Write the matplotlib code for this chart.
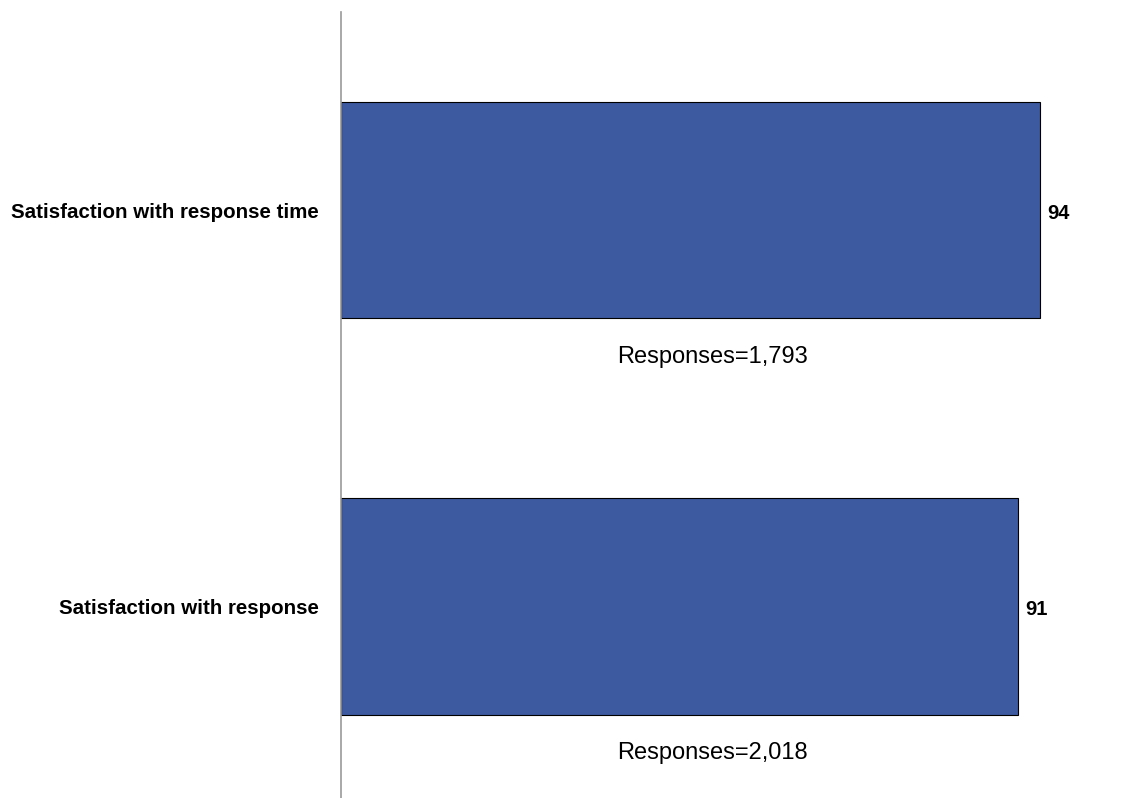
import matplotlib
matplotlib.use("Agg")
import matplotlib.pyplot as plt

categories = ["Satisfaction with response", "Satisfaction with response time"]
values = [91, 94]
responses = ["Responses=2,018", "Responses=1,793"]

plt.rcParams['font.family'] = ['Liberation Sans', 'DejaVu Sans']

fig = plt.figure(figsize=(11.42, 7.98), dpi=100)
ax = fig.add_axes([341/1142, 0.0, (1084.6-341)/1142, 1 - 12/798])

pos = list(range(len(categories)))
h = 0.545
ax.barh(pos, values, height=h, color="#3D5AA1", edgecolor="black", linewidth=0.8)
ax.set_xlim(0, 100)
ax.set_ylim(-0.483, 1.4994)

for p, v, r in zip(pos, values, responses):
    ax.annotate(str(v), xy=(v, p), xytext=(5.5, -2.2), textcoords="offset points",
                ha="left", va="center", fontsize=14.5, fontweight="bold")
    ax.text(50, p - h/2 - 0.097, r, ha="center", va="center", fontsize=17)

ax.set_yticks(pos)
ax.set_yticklabels(categories, fontsize=14.8, fontweight="bold")
ax.tick_params(axis="y", length=0, pad=16)
ax.set_xticks([])
for s in ["top", "right", "bottom"]:
    ax.spines[s].set_visible(False)
ax.spines["left"].set_color("#999999")
ax.spines["left"].set_linewidth(1.2)

fig.savefig("out.png", dpi=100)
